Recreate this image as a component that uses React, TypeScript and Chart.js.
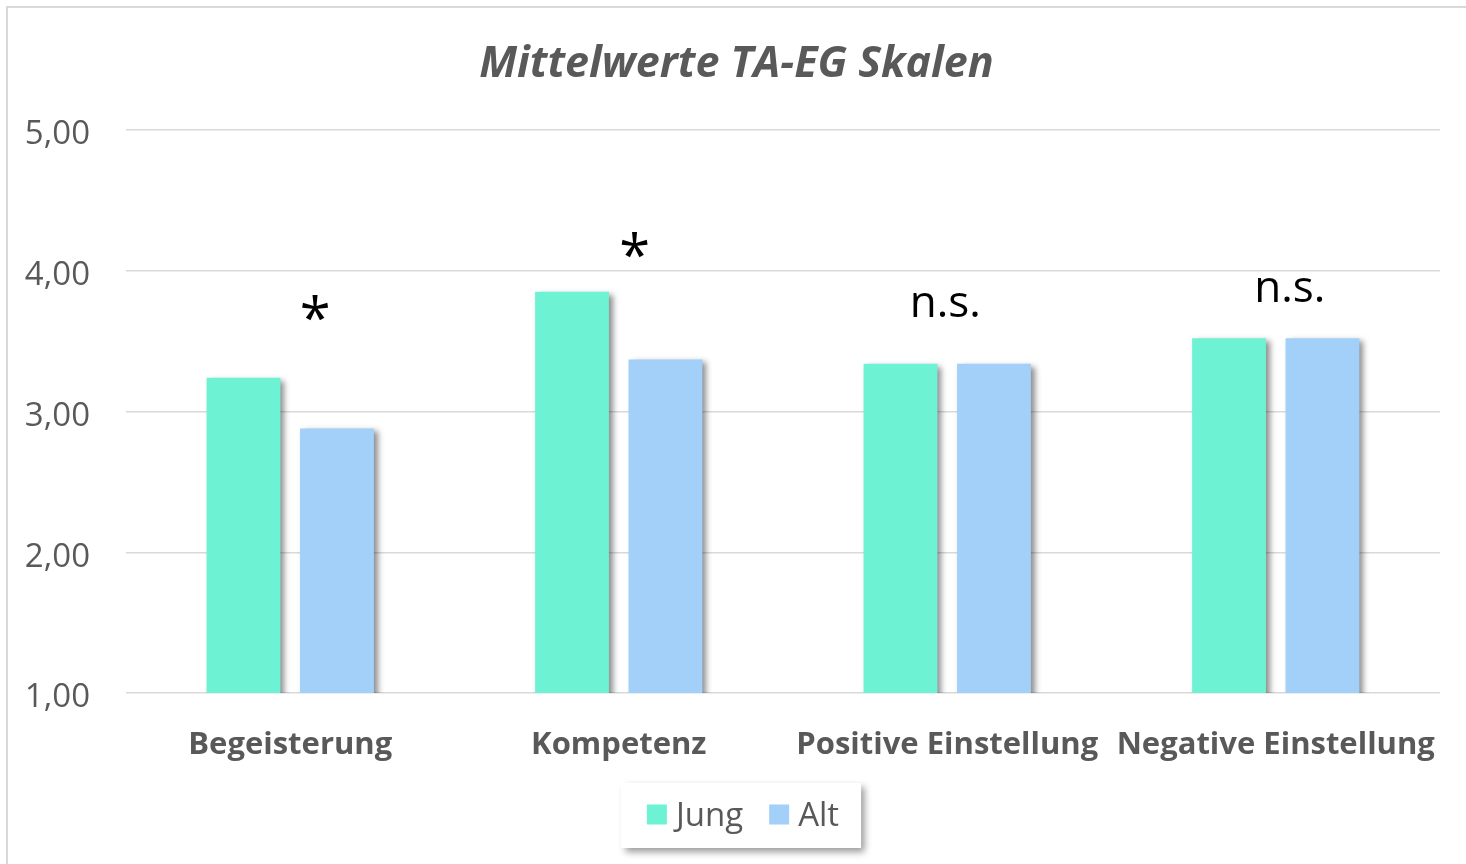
import React, { useEffect, useRef } from 'react';
import { Chart, registerables } from 'chart.js';

Chart.register(...registerables);

const categories = ['Begeisterung', 'Kompetenz', 'Positive Einstellung', 'Negative Einstellung'];
const seriesNames = ['Jung', 'Alt'];
const jungValues = [3.24, 3.85, 3.34, 3.52];
const altValues = [2.88, 3.37, 3.34, 3.52];
const yTickValues = [1, 2, 3, 4, 5];
const significanceLabels = ['*', '*', 'n.s.', 'n.s.'];
const significanceLevels = [3.735, 4.18, 3.76, 3.86];

const titleText = 'Mittelwerte TA-EG Skalen';
const seriesColors = ['#6DF3D3', '#A2D0F8'];
const textGray = '#595959';
const gridGray = '#D9D9D9';
const FONT = '"Open Sans", sans-serif';
const annotationOffsets = [25, 16, -2, 14];

const framePlugin = {
  id: 'frame',
  beforeDraw(chart: any) {
    const ctx = chart.ctx;
    ctx.save();
    ctx.fillStyle = '#ffffff';
    ctx.fillRect(0, 0, chart.width, chart.height);
    ctx.strokeStyle = gridGray;
    ctx.lineWidth = 2;
    ctx.strokeRect(7, 7, chart.width + 20, chart.height + 20);
    // title, centred in the framed area
    ctx.fillStyle = textGray;
    ctx.font = `italic bold 43px ${FONT}`;
    ctx.textAlign = 'center';
    ctx.textBaseline = 'middle';
    ctx.fillText(titleText, (7 + chart.width) / 2, 65);
    ctx.restore();
  },
};

const shadowPlugin = {
  id: 'barShadow',
  beforeDatasetsDraw(chart: any) {
    const ctx = chart.ctx;
    ctx.save();
    ctx.shadowColor = 'rgba(0,0,0,0.45)';
    ctx.shadowBlur = 6;
    ctx.shadowOffsetX = 4;
    ctx.shadowOffsetY = 3;
  },
  afterDatasetsDraw(chart: any) {
    chart.ctx.restore();
  },
};

const annotationPlugin = {
  id: 'significance',
  afterDatasetsDraw(chart: any) {
    const ctx = chart.ctx;
    const xs = chart.scales.x;
    const ys = chart.scales.y;
    ctx.save();
    ctx.fillStyle = '#000000';
    ctx.textAlign = 'center';
    ctx.textBaseline = 'alphabetic';
    significanceLabels.forEach((t, i) => {
      ctx.font = t === '*' ? `56px ${FONT}` : `44px ${FONT}`;
      const m = ctx.measureText(t);
      const x = xs.getPixelForValue(i) + annotationOffsets[i];
      const y = ys.getPixelForValue(significanceLevels[i]);
      const yy = y + (m.actualBoundingBoxAscent - m.actualBoundingBoxDescent) / 2;
      ctx.fillText(t, x, yy);
    });
    ctx.restore();
  },
};

const legendPlugin = {
  id: 'customLegend',
  afterDraw(chart: any) {
    const ctx = chart.ctx;
    ctx.save();
    ctx.font = `33px ${FONT}`;
    const padL = 26, padR = 22, sq = 20, gap = 9, itemGap = 26;
    const widths = seriesNames.map((n) => ctx.measureText(n).width);
    let total = padL + padR;
    widths.forEach((w, i) => {
      total += sq + gap + w + (i < widths.length - 1 ? itemGap : 0);
    });
    const boxH = 65;
    const cx = 741;
    const left = cx - total / 2;
    const top = 783;
    ctx.save();
    ctx.shadowColor = 'rgba(0,0,0,0.4)';
    ctx.shadowBlur = 7;
    ctx.shadowOffsetX = 4;
    ctx.shadowOffsetY = 4;
    ctx.fillStyle = '#ffffff';
    ctx.fillRect(left, top, total, boxH);
    ctx.restore();
    let x = left + padL;
    const midY = top + boxH / 2 - 1;
    seriesNames.forEach((n, i) => {
      ctx.fillStyle = seriesColors[i];
      ctx.fillRect(x, midY - sq / 2, sq, sq);
      x += sq + gap;
      ctx.fillStyle = textGray;
      ctx.textAlign = 'left';
      ctx.textBaseline = 'middle';
      ctx.fillText(n, x, midY + 2);
      x += widths[i] + itemGap;
    });
    ctx.restore();
  },
};

export default function App() {
  const ref = useRef<HTMLCanvasElement>(null);
  useEffect(() => {
    if (!ref.current) return;
    const chart = new Chart(ref.current, {
      type: 'bar',
      data: {
        labels: categories,
        datasets: [
          { label: seriesNames[0], data: jungValues, backgroundColor: seriesColors[0], borderWidth: 0, categoryPercentage: 0.569, barPercentage: 0.79 },
          { label: seriesNames[1], data: altValues, backgroundColor: seriesColors[1], borderWidth: 0, categoryPercentage: 0.569, barPercentage: 0.79 },
        ],
      },
      options: {
        responsive: false,
        animation: false,
        layout: { padding: { left: 8, right: 26, top: 130, bottom: 0 } },
        plugins: {
          legend: { display: false },
          tooltip: { enabled: false },
          title: { display: false },
        },
        scales: {
          x: {
            grid: { display: false },
            border: { display: false },
            ticks: { color: textGray, font: { family: FONT, size: 31, weight: 'bold' }, padding: 26, maxRotation: 0 },
            afterFit: (s: any) => { s.height = 171; },
          },
          y: {
            min: 1,
            max: 5,
            afterBuildTicks: (s: any) => { s.ticks = yTickValues.map((v) => ({ value: v })); },
            grid: { color: gridGray, lineWidth: 1.5, drawTicks: false },
            border: { display: false },
            ticks: {
              color: textGray,
              font: { family: FONT, size: 33 },
              padding: 36,
              labelOffset: 5,
              callback: (v: any) => Number(v).toFixed(2).replace('.', ','),
            },
            afterFit: (s: any) => { s.width = 118; },
          },
        },
      },
      plugins: [framePlugin, shadowPlugin, annotationPlugin, legendPlugin],
    } as any);
    return () => chart.destroy();
  }, []);
  return (
    <div style={{ position: 'fixed', left: 0, top: 0, width: 1466, height: 864, overflow: 'hidden' }}>
      <canvas ref={ref} width={1466} height={864} style={{ display: 'block', width: 1466, height: 864 }} />
    </div>
  );
}
